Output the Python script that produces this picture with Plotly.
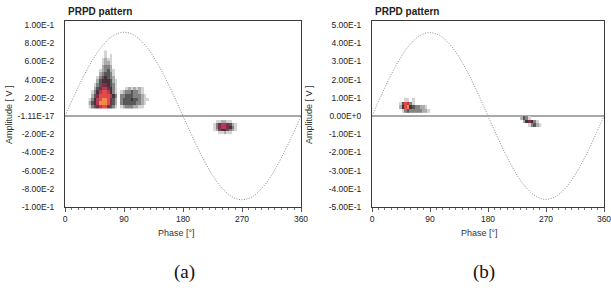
import plotly.graph_objects as go

# ---------------- data ----------------
PHASE_TICKS = [0, 90, 180, 270, 360]

# reference supply-voltage waveform (sampled every 15 degrees)
WAVE_PHASE = [0, 15, 30, 45, 60, 75, 90, 105, 120, 135, 150, 165, 180,
              195, 210, 225, 240, 255, 270, 285, 300, 315, 330, 345, 360]
WAVE_A = [0, 0.0238, 0.046, 0.0651, 0.0797, 0.0889, 0.092, 0.0889, 0.0797, 0.0651, 0.046, 0.0238, 0,
          -0.0238, -0.046, -0.0651, -0.0797, -0.0889, -0.092, -0.0889, -0.0797, -0.0651, -0.046, -0.0238, 0]
WAVE_B = [0, 0.1185, 0.229, 0.3239, 0.3966, 0.4424, 0.458, 0.4424, 0.3966, 0.3239, 0.229, 0.1185, 0,
          -0.1185, -0.229, -0.3239, -0.3966, -0.4424, -0.458, -0.4424, -0.3966, -0.3239, -0.229, -0.1185, 0]

A_YTICK_VALS = [0.1, 0.08, 0.06, 0.04, 0.02, 0, -0.02, -0.04, -0.06, -0.08, -0.1]
A_YTICK_TEXT = ["1.00E-1", "8.00E-2", "6.00E-2", "4.00E-2", "2.00E-2", "-1.11E-17",
                "-2.00E-2", "-4.00E-2", "-6.00E-2", "-8.00E-2", "-1.00E-1"]
B_YTICK_VALS = [0.5, 0.4, 0.3, 0.2, 0.1, 0, -0.1, -0.2, -0.3, -0.4, -0.5]
B_YTICK_TEXT = ["5.00E-1", "4.00E-1", "3.00E-1", "2.00E-1", "1.00E-1", "0.00E+0",
                "-1.00E-1", "-2.00E-1", "-3.00E-1", "-4.00E-1", "-5.00E-1"]

# PD density maps (level 0 = empty ... 9 = highest density)
A_POS_PHASE = [38, 42, 46, 50, 54, 58, 62, 66, 70, 74, 78, 82,
               86, 90, 94, 98, 102, 106, 110, 114, 118, 122, 126, 130]
A_POS_AMP = [0.070, 0.066, 0.062, 0.058, 0.054, 0.050, 0.046, 0.042,
             0.038, 0.034, 0.030, 0.026, 0.022, 0.018, 0.014, 0.010]
A_POS_DENSITY = [
    "000000100000000000000000",
    "000000101000000000000000",
    "000001211000000000000000",
    "000001221000000000000000",
    "000002332000000000000000",
    "000012342100000000000000",
    "000023443100000000000000",
    "000134543200000000000000",
    "000245554210000000000000",
    "001346654310000000000000",
    "002467765310001212121000",
    "013578875310123343321000",
    "024688887530334443332100",
    "135789986420344454432110",
    "245799986420344444332100",
    "134678864310123332211000",
]

A_NEG_PHASE = [228, 232, 236, 240, 244, 248, 252, 256, 260]
A_NEG_AMP = [-0.006, -0.009, -0.012, -0.015, -0.018]
A_NEG_DENSITY = [
    "011221100",
    "136776421",
    "136776531",
    "124554321",
    "001121100",
]

B_POS_PHASE = [44, 48, 52, 56, 60, 64, 68, 72, 76, 80, 84, 88]
B_POS_AMP = [0.09, 0.07, 0.05, 0.03]
B_POS_DENSITY = [
    "001101000000",
    "148731000000",
    "258954332210",
    "013433333221",
]

B_NEG_PHASE = [232, 236, 240, 244, 248, 252, 256, 260]
B_NEG_AMP = [-0.01, -0.03, -0.05]
B_NEG_DENSITY = [
    "24310000",
    "02565310",
    "00013421",
]

DENSITY_COLORS = ["#d4d4d4", "#acacac", "#848484", "#585858", "#4a3038",
                  "#7a3048", "#b83a50", "#e04a4a", "#f08a48"]

# ---------------- figure ----------------
W, H = 611, 293


def px(x):
    return x / W


def py(y):
    return 1 - y / H


def density(rows):
    return [[None if c == "0" else int(c) for c in r] for r in rows]


cs = []
n = len(DENSITY_COLORS)
for i, c in enumerate(DENSITY_COLORS):
    cs.append([i / n, c])
    cs.append([(i + 1) / n, c])

fig = go.Figure()


def add_map(xs, ys, rows, xa, ya):
    fig.add_trace(go.Heatmap(
        x=xs, y=ys[::-1], z=density(rows)[::-1],
        colorscale=cs, zmin=0.5, zmax=9.5, showscale=False,
        hoverinfo="skip", xaxis=xa, yaxis=ya))


for xa, ya, wave in [("x", "y", WAVE_A), ("x2", "y2", WAVE_B)]:
    fig.add_trace(go.Scatter(
        x=WAVE_PHASE, y=wave, mode="lines", line_shape="spline",
        line=dict(color="#8c8c8c", width=1, dash="1px,1.5px"),
        hoverinfo="skip", xaxis=xa, yaxis=ya, showlegend=False))

add_map(A_POS_PHASE, A_POS_AMP, A_POS_DENSITY, "x", "y")
add_map(A_NEG_PHASE, A_NEG_AMP, A_NEG_DENSITY, "x", "y")
add_map(B_POS_PHASE, B_POS_AMP, B_POS_DENSITY, "x2", "y2")
add_map(B_NEG_PHASE, B_NEG_AMP, B_NEG_DENSITY, "x2", "y2")

tick_font = dict(family="Liberation Sans", size=8.5, color="#222222")
common_x = dict(
    range=[0, 360], tickvals=PHASE_TICKS, ticktext=[str(t) for t in PHASE_TICKS],
    ticks="outside", ticklen=4, tickcolor="#555555", tickwidth=1,
    minor=dict(dtick=10, tick0=0, ticks="outside", ticklen=2, tickcolor="#777777"),
    showgrid=False, zeroline=False, showline=True, linecolor="#3a3a3a", linewidth=1,
    mirror=True, tickfont=tick_font, fixedrange=True, automargin=False,
    ticklabeloverflow="allow")
common_y = dict(
    ticks="", showgrid=False, zeroline=True, zerolinecolor="#a8a8a8", zerolinewidth=1.5,
    showline=True, linecolor="#3a3a3a", linewidth=1, mirror=True,
    tickfont=tick_font, ticklabelstandoff=8, fixedrange=True, automargin=False)

ydom = [py(207), py(21)]
fig.update_layout(
    width=W, height=H, margin=dict(l=0, r=0, t=0, b=0, autoexpand=False),
    paper_bgcolor="white", plot_bgcolor="white", showlegend=False,
    xaxis=dict(domain=[px(65), px(301)], anchor="y", **common_x),
    yaxis=dict(domain=ydom, anchor="x", range=[-0.1, 0.1044],
               tickvals=A_YTICK_VALS, ticktext=A_YTICK_TEXT, **common_y),
    xaxis2=dict(domain=[px(372), px(604)], anchor="y2", **common_x),
    yaxis2=dict(domain=ydom, anchor="x2", range=[-0.5, 0.522],
                tickvals=B_YTICK_VALS, ticktext=B_YTICK_TEXT, **common_y),
)

lab_font = dict(family="Liberation Sans", size=9, color="#333333")
ann = []
for x0, xt, yt, lab, labx in [(65, 176, 9, "(a)", 184), (372, 480, 309, "(b)", 484)]:
    ann.append(dict(text="<b>PRPD pattern</b>", x=px(x0 + 1), y=py(11), xref="paper", yref="paper",
                    xanchor="left", yanchor="middle", showarrow=False,
                    font=dict(family="Liberation Sans", size=10, color="#222222")))
    ann.append(dict(text="Phase [°]", x=px(xt), y=py(233), xref="paper", yref="paper",
                    xanchor="center", yanchor="middle", showarrow=False, font=lab_font))
    ann.append(dict(text="Amplitude [ V ]", x=px(yt), y=py(115), xref="paper", yref="paper",
                    xanchor="center", yanchor="middle", textangle=-90, showarrow=False, font=lab_font))
    ann.append(dict(text=lab, x=px(labx), y=py(272), xref="paper", yref="paper",
                    xanchor="center", yanchor="middle", showarrow=False,
                    font=dict(family="Liberation Serif", size=19, color="#111111")))
fig.update_layout(annotations=ann)

fig.write_html("out.html", config={"displayModeBar": False},
               post_script="document.body.style.margin='0';")
